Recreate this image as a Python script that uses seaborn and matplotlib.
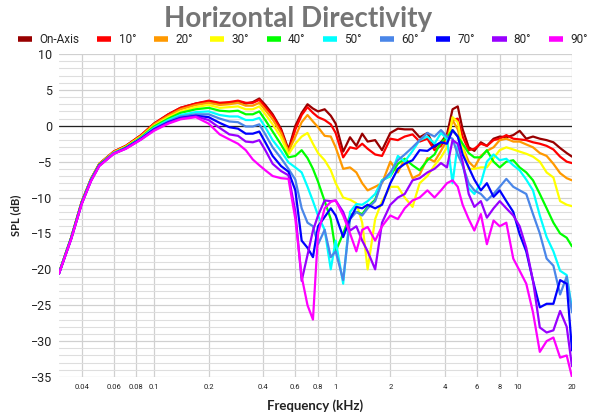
import matplotlib
matplotlib.use("Agg")
import matplotlib.pyplot as plt
from matplotlib.lines import Line2D
from matplotlib.ticker import FixedLocator, NullLocator, MultipleLocator, FixedFormatter
import numpy as np
import pandas as pd
import seaborn as sns

# ---------------- data ----------------
freq_khz = [0.03, 0.035, 0.04, 0.045, 0.05, 0.06, 0.07, 0.085, 0.1, 0.12,
            0.14, 0.17, 0.2, 0.23, 0.26, 0.29, 0.32, 0.35, 0.38, 0.41,
            0.45, 0.5, 0.55, 0.6, 0.65, 0.7, 0.75, 0.8, 0.87, 0.94,
            1.0, 1.1, 1.2, 1.3, 1.4, 1.5, 1.65, 1.8, 2.0, 2.2,
            2.4, 2.65, 2.9, 3.2, 3.5, 3.8, 4.1, 4.4, 4.7, 5.0,
            5.4, 5.8, 6.3, 6.8, 7.4, 8.0, 8.7, 9.5, 10.3, 11.2,
            12.2, 13.3, 14.5, 15.8, 17.2, 18.7, 20.0]

on_axis = [-20.5, -15.6, -10.6, -7.4, -5.3, -3.6, -2.8, -1.3, 0.3, 1.6,
           2.5, 3.1, 3.4, 3.1, 3.2, 3.4, 3.1, 3.3, 3.8, 2.9,
           1.6, -0.4, -3.3, 0.0, 1.8, 3.0, 2.4, 2.0, 2.3, 1.4,
           0.3, -3.6, -1.6, -2.8, -1.1, -2.2, -2.0, -3.4, -1.0, -0.4,
           -0.5, -0.5, -1.6, -1.0, -3.0, -2.3, -1.2, 2.3, 2.7, -0.5,
           -3.0, -3.5, -2.3, -2.8, -1.8, -1.5, -1.6, -1.3, -0.7, -1.8,
           -1.5, -1.8, -2.0, -2.3, -3.1, -3.8, -4.3]

deg10 = [-20.5, -15.6, -10.6, -7.4, -5.3, -3.6, -2.8, -1.3, 0.3, 1.6,
         2.5, 3.1, 3.5, 3.2, 3.3, 3.5, 3.2, 3.2, 3.6, 2.6,
         1.4, -0.6, -3.6, -0.5, 1.5, 2.6, 1.8, 1.2, 0.8, 0.2,
         -1.0, -4.4, -3.0, -3.2, -2.5, -3.2, -4.0, -4.2, -1.8, -2.0,
         -1.5, -1.2, -2.2, -1.8, -3.4, -2.8, -1.5, 0.8, 1.0, -1.5,
         -3.4, -3.2, -2.5, -2.8, -2.0, -1.8, -1.3, -1.8, -1.9, -2.0,
         -2.3, -2.5, -2.8, -3.3, -4.3, -5.0, -5.2]

deg20 = [-20.5, -15.6, -10.7, -7.4, -5.3, -3.7, -2.9, -1.4, 0.2, 1.4,
         2.3, 2.9, 3.2, 2.9, 3.0, 3.2, 2.8, 2.8, 3.2, 2.2,
         0.9, -1.0, -3.6, -1.5, 0.5, 1.5, 0.6, -0.2, -1.4, -1.5,
         -3.0, -6.0, -5.8, -6.5, -8.0, -9.0, -8.5, -8.0, -5.0, -6.5,
         -4.6, -7.3, -6.8, -4.5, -5.0, -3.5, -2.0, 0.8, -0.5, -3.0,
         -5.0, -5.8, -4.2, -3.5, -3.0, -2.0, -1.8, -2.2, -2.2, -2.6,
         -3.0, -3.8, -4.2, -5.3, -6.6, -7.3, -7.6]

deg30 = [-20.5, -15.6, -10.7, -7.5, -5.4, -3.7, -2.9, -1.5, 0.0, 1.2,
         2.0, 2.6, 2.9, 2.5, 2.6, 2.7, 2.3, 2.3, 2.7, 1.6,
         0.2, -1.6, -4.0, -2.5, -1.5, -1.0, -2.5, -3.8, -4.8, -6.2,
         -8.0, -10.0, -10.3, -10.8, -13.5, -20.0, -13.0, -10.5, -8.5, -8.5,
         -10.0, -11.3, -8.0, -7.0, -5.5, -4.4, -3.0, 1.2, 0.5, -3.0,
         -6.0, -6.0, -5.8, -5.8, -4.5, -3.4, -3.0, -3.3, -3.6, -3.9,
         -4.3, -5.0, -6.5, -7.2, -10.5, -11.0, -11.2]

deg40 = [-20.5, -15.6, -10.7, -7.5, -5.4, -3.8, -3.0, -1.6, -0.1, 1.0,
         1.8, 2.3, 2.5, 2.1, 2.0, 2.1, 1.6, 1.6, 2.0, 0.8,
         -0.8, -2.6, -4.4, -4.2, -3.4, -4.5, -6.0, -7.8, -10.5, -13.0,
         -17.5, -15.0, -12.5, -12.0, -12.3, -11.3, -10.3, -7.6, -7.0, -5.3,
         -4.6, -5.5, -6.2, -4.8, -4.0, -2.3, -1.6, -0.6, -1.5, -2.5,
         -3.8, -4.4, -4.4, -3.4, -5.0, -5.8, -5.0, -4.8, -5.8, -6.5,
         -7.6, -9.5, -11.5, -13.5, -15.0, -15.6, -16.8]

deg50 = [-20.5, -15.7, -10.8, -7.5, -5.5, -3.8, -3.1, -1.7, -0.3, 0.8,
         1.5, 1.9, 2.0, 1.5, 1.3, 1.3, 0.8, 0.8, 1.1, -0.2,
         -2.0, -3.5, -5.1, -5.8, -6.5, -8.5, -10.5, -12.5, -14.5, -20.0,
         -16.0, -22.0, -12.0, -10.9, -11.0, -10.5, -9.5, -7.6, -7.0, -4.2,
         -5.0, -3.5, -2.0, -1.5, -2.5, -1.0, -1.8, -8.0, -2.5, -5.5,
         -8.7, -9.5, -8.0, -5.0, -4.0, -4.8, -4.6, -5.5, -6.2, -7.5,
         -9.0, -12.5, -15.5, -17.5, -20.2, -20.8, -25.5]

deg60 = [-20.6, -15.7, -10.8, -7.6, -5.5, -3.8, -3.1, -1.7, -0.4, 0.6,
         1.3, 1.6, 1.6, 1.0, 0.6, 0.5, -0.1, -0.1, 0.2, -1.2,
         -3.0, -4.5, -6.0, -7.5, -11.5, -13.5, -14.0, -16.5, -14.5, -18.3,
         -17.5, -21.5, -13.0, -12.0, -12.5, -11.5, -10.5, -7.8, -6.5, -4.8,
         -4.0, -3.0, -2.0, -1.0, -1.5, -0.6, -1.5, -1.8, -4.0, -5.5,
         -8.0, -9.0, -9.5, -10.4, -9.5, -8.5, -7.4, -8.5, -9.0, -9.5,
         -12.3, -15.0, -18.5, -19.5, -23.5, -21.0, -26.0]

deg70 = [-20.6, -15.7, -10.8, -7.6, -5.5, -3.9, -3.1, -1.8, -0.5, 0.5,
         1.1, 1.4, 1.2, 0.4, -0.2, -0.4, -1.1, -1.1, -0.8, -2.3,
         -4.2, -5.6, -6.4, -9.0, -16.0, -17.0, -18.3, -14.0, -12.7, -11.5,
         -12.5, -15.5, -13.0, -11.3, -11.5, -11.0, -11.5, -11.0, -8.0, -6.0,
         -5.3, -4.8, -3.4, -3.5, -2.8, -2.3, -2.5, -0.6, -1.5, -4.0,
         -5.8, -7.5, -9.0, -8.0, -9.9, -9.0, -10.5, -12.0, -15.1, -17.5,
         -21.6, -25.3, -24.8, -24.8, -21.5, -22.0, -31.3]

deg80 = [-20.6, -15.8, -10.9, -7.7, -5.6, -3.9, -3.2, -1.9, -0.6, 0.4,
         1.0, 1.3, 0.8, -0.3, -1.2, -1.4, -2.2, -2.3, -2.0, -3.4,
         -5.3, -6.3, -6.9, -12.0, -21.6, -18.0, -14.6, -12.5, -10.4, -10.5,
         -10.4, -12.0, -14.6, -14.0, -16.0, -17.5, -20.0, -13.5, -11.0, -10.0,
         -9.5, -7.6, -7.3, -6.5, -6.0, -5.2, -5.8, -2.0, -2.5, -5.0,
         -9.5, -11.3, -10.5, -12.8, -11.5, -10.5, -11.5, -12.5, -14.0, -17.0,
         -21.6, -28.1, -28.8, -28.5, -25.8, -28.0, -33.5]

deg90 = [-20.6, -15.8, -10.9, -7.7, -5.6, -3.9, -3.2, -1.9, -0.7, 0.3,
         0.9, 1.2, 0.3, -1.2, -1.9, -2.5, -3.4, -4.7, -5.5, -6.2,
         -7.0, -7.3, -7.4, -13.0, -21.0, -25.0, -27.0, -15.0, -11.5, -10.6,
         -10.4, -12.5, -15.0, -17.5, -14.5, -14.1, -16.0, -14.0, -12.5, -13.0,
         -11.5, -10.4, -10.0, -9.0, -10.0, -9.0, -8.0, -7.6, -8.5, -11.0,
         -13.0, -14.6, -12.3, -16.5, -13.2, -14.0, -13.5, -18.5, -20.2, -22.0,
         -26.0, -31.5, -30.0, -29.5, -32.3, -32.0, -35.0]

series_names = ["On-Axis", "10°", "20°", "30°", "40°", "50°", "60°", "70°", "80°", "90°"]
series_values = [on_axis, deg10, deg20, deg30, deg40, deg50, deg60, deg70, deg80, deg90]
series_colors = ["#980000", "#ff0000", "#ff9900", "#ffff00", "#00ff00",
                 "#00ffff", "#4a86e8", "#0000ff", "#9900ff", "#ff00ff"]

xtick_values = [0.04, 0.06, 0.08, 0.1, 0.2, 0.4, 0.6, 0.8, 1, 2, 4, 6, 8, 10, 20]
xtick_labels = ["0.04", "0.06", "0.08", "0.1", "0.2", "0.4", "0.6", "0.8",
                "1", "2", "4", "6", "8", "10", "20"]
ytick_values = [10, 5, 0, -5, -10, -15, -20, -25, -30, -35]

for v in series_values:
    assert len(v) == len(freq_khz)

df = pd.concat(
    [pd.DataFrame({"Frequency": freq_khz, "SPL": vals, "Angle": name})
     for name, vals in zip(series_names, series_values)],
    ignore_index=True,
)

# ---------------- styling ----------------
sns.set_theme(style="whitegrid")
plt.rcParams["font.family"] = ["Roboto", "DejaVu Sans"]

fig = plt.figure(figsize=(6.0, 4.2), dpi=100)
W, H = 600.0, 420.0
ax = fig.add_axes([59 / W, 1 - 377 / H, (572 - 59) / W, (377 - 54) / H])
ax.set_facecolor("white")

sns.lineplot(data=df, x="Frequency", y="SPL", hue="Angle",
             hue_order=series_names, palette=series_colors,
             linewidth=1.6, legend=False, ax=ax, sort=False)

ax.set_xscale("log")
ax.set_xlim(0.03, 20)
ax.set_ylim(-35, 10)
ax.xaxis.set_major_locator(FixedLocator(xtick_values))
ax.xaxis.set_major_formatter(FixedFormatter(xtick_labels))
ax.xaxis.set_minor_locator(NullLocator())
ax.yaxis.set_major_locator(FixedLocator(ytick_values))
ax.yaxis.set_minor_locator(MultipleLocator(1))

ax.grid(which="major", axis="both", color="#d0d0d0", linewidth=0.9)
ax.grid(which="minor", axis="y", color="#dedede", linewidth=0.8)
ax.set_axisbelow(True)
ax.axhline(0, color="#222222", linewidth=0.9, zorder=1.5)
for s in ax.spines.values():
    s.set_visible(False)

ax.tick_params(axis="both", which="both", length=0)
ax.tick_params(axis="x", labelsize=5.5, pad=5, labelcolor="#222222")
ax.tick_params(axis="y", labelsize=9, pad=5, labelcolor="#222222")

ax.set_xlabel("Frequency (kHz)", fontsize=9.5, fontweight="bold",
              family=["Lato", "DejaVu Sans"], color="#222222", labelpad=7)
ax.set_ylabel("SPL (dB)", fontsize=8, fontweight="bold",
              family=["Lato", "DejaVu Sans"], color="#222222", labelpad=7)

fig.text(0.497, 0.955, "Horizontal Directivity", ha="center", va="center",
         fontsize=20, fontweight="bold", color="#757575",
         family=["Lato", "DejaVu Sans"])

handles = [Line2D([0], [0], color=c, lw=4, solid_capstyle="butt") for c in series_colors]
fig.legend(handles, series_names, loc="center", bbox_to_anchor=(0.505, 0.905),
           ncol=10, frameon=False, fontsize=8.5, handlelength=1.2,
           handletextpad=0.6, columnspacing=1.5, borderaxespad=0)

fig.savefig("out.png", dpi=100, facecolor="white")
